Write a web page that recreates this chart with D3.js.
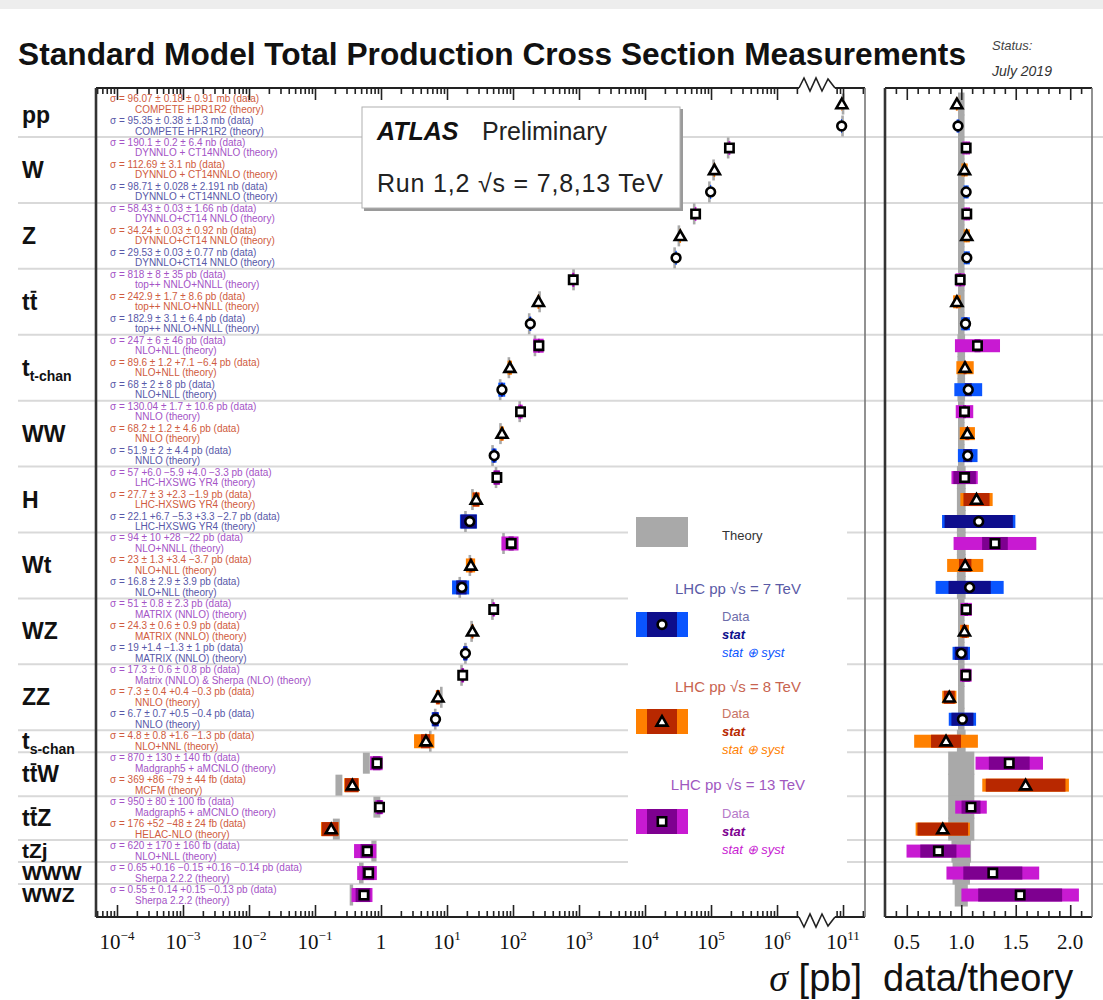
<!DOCTYPE html>
<html>
<head>
<meta charset="utf-8">
<script src="https://cdn.jsdelivr.net/npm/d3@7"></script>
<style>
  body { margin: 0; background: #fff; }
  svg { display: block; }
</style>
</head>
<body>
<svg id="chart" width="1103" height="1000"></svg>
<script>
// ---------------------------------------------------------------------------
// Process categories (rows, top to bottom) and how their labels are typeset
// ---------------------------------------------------------------------------
const categoryLabels = [
  [["pp"]],
  [["W"]],
  [["Z"]],
  [["t"], ["t", "bar"]],
  [["t"], ["t-chan", "sub"]],
  [["WW"]],
  [["H"]],
  [["Wt"]],
  [["WZ"]],
  [["ZZ"]],
  [["t"], ["s-chan", "sub"]],
  [["t"], ["t", "bar"], ["W"]],
  [["t"], ["t", "bar"], ["Z"]],
  [["tZj"]],
  [["WWW"]],
  [["WWZ"]]
];

// ---------------------------------------------------------------------------
// Measurements (one entry per data point, top to bottom)
// ---------------------------------------------------------------------------
const measCategory = [0, 0, 1, 1, 1, 2, 2, 2, 3, 3, 3, 4, 4, 4, 5, 5, 5, 6, 6, 6,
  7, 7, 7, 8, 8, 8, 9, 9, 9, 10, 11, 11, 12, 12, 13, 14, 15];
const measEnergy = [8, 7, 13, 8, 7, 13, 8, 7, 13, 8, 7, 13, 8, 7, 13, 8, 7, 13, 8, 7,
  13, 8, 7, 13, 8, 7, 13, 8, 7, 8, 13, 8, 13, 8, 13, 13, 13];
// measured cross sections, in the unit quoted next to them
const sigmaQuoted = [96.07, 95.35, 190.1, 112.69, 98.71, 58.43, 34.24, 29.53,
  818, 242.9, 182.9, 247, 89.6, 68, 130.04, 68.2, 51.9, 57.0, 27.7, 22.1,
  94, 23, 16.8, 51, 24.3, 19, 17.3, 7.3, 6.7, 4.8, 870, 369, 950, 176, 620, 0.65, 0.55];
const sigmaUnit = ["mb", "mb", "nb", "nb", "nb", "nb", "nb", "nb",
  "pb", "pb", "pb", "pb", "pb", "pb", "pb", "pb", "pb", "pb", "pb", "pb",
  "pb", "pb", "pb", "pb", "pb", "pb", "pb", "pb", "pb", "pb", "fb", "fb", "fb", "fb", "fb", "pb", "pb"];
const errorText = ["± 0.18 ± 0.91", "± 0.38 ± 1.3", "± 0.2 ± 6.4", "± 3.1",
  "± 0.028 ± 2.191", "± 0.03 ± 1.66", "± 0.03 ± 0.92", "± 0.03 ± 0.77",
  "± 8 ± 35", "± 1.7 ± 8.6", "± 3.1 ± 6.4", "± 6 ± 46", "± 1.2 +7.1 −6.4", "± 2 ± 8",
  "± 1.7 ± 10.6", "± 1.2 ± 4.6", "± 2 ± 4.4", "+6.0 −5.9 +4.0 −3.3", "± 3 +2.3 −1.9",
  "+6.7 −5.3 +3.3 −2.7", "± 10 +28 −22", "± 1.3 +3.4 −3.7", "± 2.9 ± 3.9",
  "± 0.8 ± 2.3", "± 0.6 ± 0.9", "+1.4 −1.3 ± 1", "± 0.6 ± 0.8", "± 0.4 +0.4 −0.3",
  "± 0.7 +0.5 −0.4", "± 0.8 +1.6 −1.3", "± 130 ± 140", "+86 −79 ± 44", "± 80 ± 100",
  "+52 −48 ± 24", "± 170 ± 160", "+0.16 −0.15 +0.16 −0.14", "± 0.14 +0.15 −0.13"];
// relative statistical and total (stat ⊕ syst) uncertainties of the data
const statRel = [0.002, 0.004, 0.001, 0.003, 0.001, 0.001, 0.001, 0.001,
  0.01, 0.007, 0.017, 0.024, 0.013, 0.03, 0.013, 0.018, 0.039, 0.10, 0.105, 0.27,
  0.09, 0.055, 0.18, 0.016, 0.025, 0.06, 0.035, 0.056, 0.10, 0.16, 0.13, 0.23,
  0.08, 0.28, 0.21, 0.21, 0.25];
const totalRel = [0.01, 0.014, 0.034, 0.028, 0.022, 0.028, 0.027, 0.026,
  0.044, 0.036, 0.038, 0.18, 0.077, 0.12, 0.078, 0.066, 0.085, 0.117, 0.13, 0.29,
  0.29, 0.16, 0.29, 0.05, 0.04, 0.08, 0.05, 0.073, 0.124, 0.34, 0.215, 0.25,
  0.133, 0.30, 0.37, 0.33, 0.35];
// theory predictions (same unit as the measurement) and their relative uncertainty
const theoryName = ["COMPETE HPR1R2", "COMPETE HPR1R2", "DYNNLO + CT14NNLO",
  "DYNNLO + CT14NNLO", "DYNNLO + CT14NNLO", "DYNNLO+CT14 NNLO", "DYNNLO+CT14 NNLO",
  "DYNNLO+CT14 NNLO", "top++ NNLO+NNLL", "top++ NNLO+NNLL", "top++ NNLO+NNLL",
  "NLO+NLL", "NLO+NLL", "NLO+NLL", "NNLO", "NNLO", "NNLO", "LHC-HXSWG YR4",
  "LHC-HXSWG YR4", "LHC-HXSWG YR4", "NLO+NNLL", "NLO+NLL", "NLO+NLL",
  "MATRIX (NNLO)", "MATRIX (NNLO)", "MATRIX (NNLO)", "Matrix (NNLO) & Sherpa (NLO)",
  "NNLO", "NNLO", "NLO+NNL", "Madgraph5 + aMCNLO", "MCFM", "Madgraph5 + aMCNLO",
  "HELAC-NLO", "NLO+NLL", "Sherpa 2.2.2", "Sherpa 2.2.2"];
const theoryQuoted = [100.1, 98.3, 181.9, 109.4, 94.5, 55.6, 32.6, 28.1,
  826, 253, 176, 215, 86.6, 63.9, 126.3, 64.6, 49.0, 55.3, 24.3, 19.05,
  71.8, 22.2, 15.6, 48.8, 23.6, 19.0, 16.6, 8.2, 6.63, 5.58, 604, 232, 872, 212, 785,
  0.504, 0.357];
const theoryRel = [0.03, 0.03, 0.03, 0.03, 0.03, 0.03, 0.03, 0.03, 0.03, 0.03, 0.03,
  0.035, 0.035, 0.035, 0.03, 0.03, 0.03, 0.04, 0.04, 0.04, 0.04, 0.04, 0.04,
  0.03, 0.03, 0.03, 0.03, 0.03, 0.03, 0.04, 0.12, 0.12, 0.12, 0.12, 0.09, 0.08, 0.06];

// axis tick labels
const mainTickExponents = [-4, -3, -2, -1, 0, 1, 2, 3, 4, 5, 6];
const brokenTickExponents = [11];
const ratioTickLabels = ["0.5", "1.0", "1.5", "2.0"];

// ---------------------------------------------------------------------------
// Styling
// ---------------------------------------------------------------------------
const toPb = { mb: 1e9, nb: 1e3, pb: 1, fb: 1e-3 };
const energyStyle = {
  13: { text: "#a453c6", title: "#a058bf", data: "#b679c9", stat: "#7e0090", tot: "#c81ad2", symbol: d3.symbolSquare, size: 70 },
  8:  { text: "#cf5b40", title: "#c8644f", data: "#c87465", stat: "#b82800", tot: "#ff8000", symbol: d3.symbolTriangle, size: 52 },
  7:  { text: "#5858a8", title: "#5a5aa6", data: "#6d6daa", stat: "#0e0e8c", tot: "#0a55ff", symbol: d3.symbolCircle, size: 60 }
};
const SANS = "'Liberation Sans', Arial, Helvetica, sans-serif";
const SERIF = "'Liberation Serif', 'Times New Roman', serif";

const PLOT = { left: 96, right: 865, top: 88, bottom: 917 };
const RAT = { left: 885, right: 1092 };
const BREAK = { lo: 799, hi: 835 };

const svg = d3.select("#chart");
svg.append("rect").attr("width", 1103).attr("height", 1000).attr("fill", "#fff");
svg.append("rect").attr("width", 1103).attr("height", 9).attr("fill", "#ededed");

// ---------------------------------------------------------------------------
// Scales
// ---------------------------------------------------------------------------
const x = d3.scaleLog()
  .domain([Math.pow(10, -4.318), Math.pow(10, 7.333)])
  .range([PLOT.left, PLOT.right]);
// the axis is broken above 10^6: the pp region is drawn four decades lower
const xHigh = x.copy().domain(x.domain().map(d => d * 1e4));
const xs = v => (v > 1e9 ? xHigh(v) : x(v));
const xr = d3.scaleLinear().domain([0.3, 2.2]).range([RAT.left, RAT.right]);
const y = d3.scaleLinear().domain([-0.23, 37.5]).range([PLOT.top, PLOT.bottom]);
const yc = i => y(i + 0.5);

const meas = measCategory.map((c, i) => ({
  i, c, e: measEnergy[i],
  value: sigmaQuoted[i] * toPb[sigmaUnit[i]],
  theory: theoryQuoted[i] * toPb[sigmaUnit[i]],
  ratio: sigmaQuoted[i] / theoryQuoted[i],
  stat: statRel[i], tot: totalRel[i], th: theoryRel[i]
}));

// first/last slot of every category
const catRange = categoryLabels.map((_, c) => {
  const idx = meas.filter(m => m.c === c).map(m => m.i);
  return [d3.min(idx), d3.max(idx) + 1];
});

// ---------------------------------------------------------------------------
// Row separators
// ---------------------------------------------------------------------------
svg.append("g").selectAll("line")
  .data(catRange.slice(1))
  .join("line")
  .attr("x1", 18).attr("x2", 1103)
  .attr("y1", d => y(d[0])).attr("y2", d => y(d[0]))
  .attr("stroke", "#d9d9d9").attr("stroke-width", 2);

// ---------------------------------------------------------------------------
// Category labels
// ---------------------------------------------------------------------------
const labelG = svg.append("g");
categoryLabels.forEach((segs, c) => {
  const cy = (y(catRange[c][0]) + y(catRange[c][1])) / 2;
  const single = catRange[c][1] - catRange[c][0] === 1 && c > 10;
  const t = labelG.append("text")
    .attr("x", 22).attr("y", cy + (single ? 7 : 8))
    .attr("font-family", SANS).attr("font-weight", "bold")
    .attr("font-size", single ? 21 : 23).attr("fill", "#111");
  let charIdx = 0;
  const bars = [];
  segs.forEach(([s, kind]) => {
    const ts = t.append("tspan").text(s);
    if (kind === "sub") ts.attr("font-size", 14).attr("dy", 5);
    if (kind === "bar") bars.push([charIdx, s.length]);
    charIdx += s.length;
  });
  bars.forEach(([start, len]) => {
    const node = t.node();
    const x0 = node.getStartPositionOfChar(start).x;
    const x1 = node.getEndPositionOfChar(start + len - 1).x;
    labelG.append("line")
      .attr("x1", x0 + 1).attr("x2", x1 - 1)
      .attr("y1", cy - 10).attr("y2", cy - 10)
      .attr("stroke", "#111").attr("stroke-width", 2);
  });
});

// ---------------------------------------------------------------------------
// Measurement annotations
// ---------------------------------------------------------------------------
const annG = svg.append("g").attr("font-family", SANS).attr("font-size", 10);
meas.forEach(m => {
  const col = energyStyle[m.e].text;
  annG.append("text").attr("x", 110).attr("y", yc(m.i) - 2).attr("fill", col)
    .text(`σ = ${sigmaQuoted[m.i]} ${errorText[m.i]} ${sigmaUnit[m.i]} (data)`);
  annG.append("text").attr("x", 135).attr("y", yc(m.i) + 8.5).attr("fill", col)
    .text(`${theoryName[m.i]} (theory)`);
});

// ---------------------------------------------------------------------------
// ATLAS label box
// ---------------------------------------------------------------------------
const atlas = svg.append("g");
atlas.append("rect").attr("x", 364).attr("y", 109).attr("width", 319).attr("height", 102)
  .attr("fill", "#9a9a9a");
atlas.append("rect").attr("x", 362).attr("y", 107).attr("width", 318).attr("height", 101)
  .attr("fill", "#fff").attr("stroke", "#b0b0b0").attr("stroke-width", 1);
atlas.append("text").attr("x", 377).attr("y", 140)
  .attr("font-family", SANS).attr("font-size", 25).attr("font-weight", "bold")
  .attr("font-style", "italic").attr("fill", "#111").text("ATLAS");
atlas.append("text").attr("x", 482).attr("y", 140)
  .attr("font-family", SANS).attr("font-size", 25).attr("fill", "#222").text("Preliminary");
atlas.append("text").attr("x", 377).attr("y", 192)
  .attr("font-family", SANS).attr("font-size", 25).attr("fill", "#222")
  .attr("textLength", 286).attr("lengthAdjust", "spacing")
  .text("Run 1,2  √s = 7,8,13 TeV");

// ---------------------------------------------------------------------------
// Main panel: theory bars, data bands, markers
// ---------------------------------------------------------------------------
const mainG = svg.append("g");
mainG.selectAll("rect.th").data(meas).join("rect")
  .attr("x", m => Math.min(xs(m.theory * (1 - m.th)), xs(m.theory) - 1.3))
  .attr("width", m => Math.max(xs(m.theory * (1 + m.th)) - xs(m.theory * (1 - m.th)), 2.6))
  .attr("y", m => yc(m.i) - 10.5).attr("height", 21)
  .attr("fill", "#a9a9a9");
mainG.selectAll("rect.tot").data(meas).join("rect")
  .attr("x", m => xs(m.value * (1 - m.tot)))
  .attr("width", m => xs(m.value * (1 + m.tot)) - xs(m.value * (1 - m.tot)))
  .attr("y", m => yc(m.i) - 7).attr("height", 14)
  .attr("fill", m => energyStyle[m.e].tot);
mainG.selectAll("rect.stat").data(meas).join("rect")
  .attr("x", m => xs(m.value * (1 - m.stat)))
  .attr("width", m => xs(m.value * (1 + m.stat)) - xs(m.value * (1 - m.stat)))
  .attr("y", m => yc(m.i) - 7).attr("height", 14)
  .attr("fill", m => energyStyle[m.e].stat);

function drawMarkers(g, data, xf) {
  g.selectAll("path.mk").data(data).join("path")
    .attr("transform", m => `translate(${xf(m)},${yc(m.i) + (m.e === 8 ? 1 : 0)})`)
    .attr("d", m => d3.symbol(energyStyle[m.e].symbol, energyStyle[m.e].size)())
    .attr("fill", "#fff").attr("stroke", "#000").attr("stroke-width", 2.6);
}
drawMarkers(mainG.append("g"), meas, m => xs(m.value));

// ---------------------------------------------------------------------------
// Ratio panel
// ---------------------------------------------------------------------------
const ratG = svg.append("g");
ratG.selectAll("rect.th").data(meas).join("rect")
  .attr("x", m => xr(1 - m.th)).attr("width", m => xr(1 + m.th) - xr(1 - m.th))
  .attr("y", m => y(m.i) - 0.5).attr("height", y(1) - y(0) + 1)
  .attr("fill", "#a9a9a9");
ratG.selectAll("rect.tot").data(meas).join("rect")
  .attr("x", m => xr(m.ratio * (1 - m.tot)))
  .attr("width", m => xr(m.ratio * (1 + m.tot)) - xr(m.ratio * (1 - m.tot)))
  .attr("y", m => yc(m.i) - 6.5).attr("height", 13)
  .attr("fill", m => energyStyle[m.e].tot);
ratG.selectAll("rect.stat").data(meas).join("rect")
  .attr("x", m => xr(m.ratio * (1 - m.stat)))
  .attr("width", m => xr(m.ratio * (1 + m.stat)) - xr(m.ratio * (1 - m.stat)))
  .attr("y", m => yc(m.i) - 6.5).attr("height", 13)
  .attr("fill", m => energyStyle[m.e].stat);
drawMarkers(ratG.append("g"), meas, m => xr(m.ratio));

// ---------------------------------------------------------------------------
// Axes
// ---------------------------------------------------------------------------
const lowMajor = mainTickExponents.map(k => Math.pow(10, k));
const lowMinor = [];
for (let k = -5; k <= 6; k++) for (let j = 2; j <= 9; j++) {
  const v = j * Math.pow(10, k);
  if (x(v) > PLOT.left + 1 && x(v) < BREAK.lo - 1) lowMinor.push(v);
}
const highMajor = brokenTickExponents.map(k => Math.pow(10, k));
const highMinor = [];
for (let k = 10; k <= 11; k++) for (let j = 2; j <= 9; j++) {
  const v = j * Math.pow(10, k);
  if (xHigh(v) > BREAK.hi + 1 && xHigh(v) < PLOT.right - 1) highMinor.push(v);
}

function ticks(axisFn, scale, values, size, yPos) {
  const g = svg.append("g").attr("transform", `translate(0,${yPos})`)
    .call(axisFn(scale).tickValues(values).tickSize(size).tickSizeOuter(0).tickFormat(""));
  g.select(".domain").remove();
  g.selectAll(".tick line").attr("stroke", "#222").attr("stroke-width", 1.6);
}
// ticks point into the frame: up from the bottom axis, down from the top axis
[[d3.axisTop, PLOT.bottom], [d3.axisBottom, PLOT.top]].forEach(([fn, yy]) => {
  ticks(fn, x, lowMinor, 6, yy);
  ticks(fn, x, lowMajor, 12, yy);
  ticks(fn, xHigh, highMinor, 6, yy);
  ticks(fn, xHigh, highMajor, 12, yy);
  ticks(fn, xr, d3.range(4, 22).map(d => d / 10).filter(v => ![0.5, 1, 1.5, 2].includes(v)), 6, yy);
  ticks(fn, xr, [0.5, 1, 1.5, 2], 12, yy);
});

// frames, with a zig-zag break on the main panel
const frame = svg.append("g").attr("fill", "none");
[[PLOT.top, -1], [PLOT.bottom, 1]].forEach(([yy, dir]) => {
  frame.append("line").attr("x1", PLOT.left).attr("x2", BREAK.lo).attr("y1", yy).attr("y2", yy)
    .attr("stroke", "#222").attr("stroke-width", 2);
  frame.append("line").attr("x1", BREAK.hi).attr("x2", PLOT.right).attr("y1", yy).attr("y2", yy)
    .attr("stroke", "#222").attr("stroke-width", 2);
  const zz = [[BREAK.lo, 0], [BREAK.lo + 5, 10], [BREAK.lo + 11, -3], [BREAK.lo + 17, 10],
    [BREAK.lo + 23, -3], [BREAK.lo + 29, 9], [BREAK.hi, 0]];
  frame.append("path")
    .attr("d", d3.line()(zz.map(([px, dy]) => [px, yy + dir * dy])))
    .attr("stroke", "#222").attr("stroke-width", 1.6);
  frame.append("line").attr("x1", RAT.left).attr("x2", RAT.right).attr("y1", yy).attr("y2", yy)
    .attr("stroke", "#222").attr("stroke-width", 2);
});
frame.append("line").attr("x1", PLOT.left).attr("x2", PLOT.left)
  .attr("y1", PLOT.top).attr("y2", PLOT.bottom).attr("stroke", "#333").attr("stroke-width", 2.6);
frame.append("line").attr("x1", PLOT.right).attr("x2", PLOT.right)
  .attr("y1", PLOT.top).attr("y2", PLOT.bottom).attr("stroke", "#777").attr("stroke-width", 1.6);
frame.append("line").attr("x1", RAT.left).attr("x2", RAT.left)
  .attr("y1", PLOT.top).attr("y2", PLOT.bottom).attr("stroke", "#333").attr("stroke-width", 2.6);
frame.append("line").attr("x1", RAT.right).attr("x2", RAT.right)
  .attr("y1", PLOT.top).attr("y2", PLOT.bottom).attr("stroke", "#777").attr("stroke-width", 1.6);

// tick labels
const tl = svg.append("g").attr("font-family", SERIF).attr("font-size", 21).attr("fill", "#111")
  .attr("text-anchor", "middle");
function powerLabel(px, k) {
  const t = tl.append("text").attr("x", px).attr("y", 949);
  if (k === 0) { t.text("1"); return; }
  t.append("tspan").text("10");
  t.append("tspan").attr("font-size", 13).attr("dy", -9).text(k < 0 ? "−" + (-k) : String(k));
}
mainTickExponents.forEach(k => powerLabel(x(Math.pow(10, k)), k));
brokenTickExponents.forEach(k => powerLabel(xHigh(Math.pow(10, k)), k));
ratioTickLabels.forEach(s => tl.append("text").attr("x", xr(+s)).attr("y", 949).text(s));

// axis titles
const at = svg.append("text").attr("x", PLOT.right - 3).attr("y", 991)
  .attr("text-anchor", "end").attr("font-family", SANS).attr("font-size", 38).attr("fill", "#111");
at.append("tspan").attr("font-family", SERIF).attr("font-style", "italic").text("σ");
at.append("tspan").text(" [pb]");
svg.append("text").attr("x", 883).attr("y", 991)
  .attr("font-family", SANS).attr("font-size", 38).attr("fill", "#111").text("data/theory");

// ---------------------------------------------------------------------------
// Title and status
// ---------------------------------------------------------------------------
svg.append("text").attr("x", 18).attr("y", 65)
  .attr("font-family", "'Liberation Sans Narrow', 'Liberation Sans', Arial, sans-serif")
  .attr("font-weight", "bold").attr("font-size", 31)
  .attr("textLength", 948).attr("lengthAdjust", "spacingAndGlyphs").attr("fill", "#111")
  .text("Standard Model Total Production Cross Section Measurements");
svg.append("text").attr("x", 992).attr("y", 50).attr("font-family", SANS)
  .attr("font-style", "italic").attr("font-size", 13).attr("fill", "#444").text("Status:");
svg.append("text").attr("x", 992).attr("y", 76).attr("font-family", SANS)
  .attr("font-style", "italic").attr("font-size", 14).attr("fill", "#333").text("July 2019");

// ---------------------------------------------------------------------------
// Legend
// ---------------------------------------------------------------------------
const lg = svg.append("g").attr("font-family", SANS);
lg.append("rect").attr("x", 628).attr("y", 505).attr("width", 219).attr("height", 366).attr("fill", "#fff");
lg.append("rect").attr("x", 636).attr("y", 517).attr("width", 52).attr("height", 30).attr("fill", "#a9a9a9");
lg.append("text").attr("x", 722).attr("y", 540).attr("font-size", 13).attr("fill", "#333").text("Theory");

const legendEntries = [
  { e: 7, titleY: 594, boxY: 612 },
  { e: 8, titleY: 692, boxY: 709 },
  { e: 13, titleY: 790, boxY: 809 }
];
legendEntries.forEach(({ e, titleY, boxY }) => {
  const st = energyStyle[e];
  lg.append("text").attr("x", 738).attr("y", titleY).attr("text-anchor", "middle")
    .attr("font-size", 15).attr("fill", st.title).text(`LHC pp  √s = ${e} TeV`);
  lg.append("rect").attr("x", 636).attr("y", boxY).attr("width", 52).attr("height", 25).attr("fill", st.tot);
  lg.append("rect").attr("x", 647).attr("y", boxY).attr("width", 30).attr("height", 25).attr("fill", st.stat);
  lg.append("path").attr("transform", `translate(662,${boxY + 12.5 + (e === 8 ? 1 : 0)})`)
    .attr("d", d3.symbol(st.symbol, st.size)())
    .attr("fill", "#fff").attr("stroke", "#000").attr("stroke-width", 2.6);
  lg.append("text").attr("x", 722).attr("y", boxY + 9).attr("font-size", 13)
    .attr("fill", st.data).text("Data");
  lg.append("text").attr("x", 722).attr("y", boxY + 27).attr("font-size", 13)
    .attr("font-style", "italic").attr("font-weight", "bold").attr("fill", st.stat).text("stat");
  lg.append("text").attr("x", 722).attr("y", boxY + 45).attr("font-size", 13)
    .attr("font-style", "italic").attr("fill", st.tot).text("stat ⊕ syst");
});
</script>
</body>
</html>
